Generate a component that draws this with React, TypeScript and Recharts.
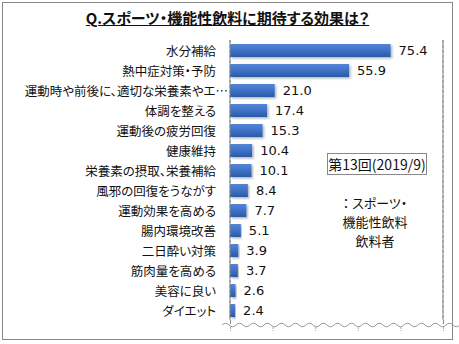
import React from "react";
import { BarChart, Bar, XAxis, YAxis, CartesianGrid, LabelList, ReferenceLine } from "recharts";

const categories = [
  "水分補給",
  "熱中症対策・予防",
  "運動時や前後に、適切な栄養素やエ…",
  "体調を整える",
  "運動後の疲労回復",
  "健康維持",
  "栄養素の摂取、栄養補給",
  "風邪の回復をうながす",
  "運動効果を高める",
  "腸内環境改善",
  "二日酔い対策",
  "筋肉量を高める",
  "美容に良い",
  "ダイエット",
];
const values = [75.4, 55.9, 21.0, 17.4, 15.3, 10.4, 10.1, 8.4, 7.7, 5.1, 3.9, 3.7, 2.6, 2.4];
const xTicks = [0, 20, 40, 60, 80, 100];
const title = "Q.スポーツ・機能性飲料に期待する効果は？";
const legendLabel = "第13回(2019/9)";
const noteLines = ["： スポーツ・", "機能性飲料", "飲料者"];

const data = categories.map((name, i) => ({ name, value: values[i] }));

const JP = '"Noto Sans CJK JP", "Noto Sans", sans-serif';

const CatTick = (props: any) => {
  const { x, y, payload } = props;
  const truncated = String(payload.value).endsWith("…");
  return (
    <text
      x={truncated ? x + 12 : x}
      y={y}
      textAnchor="end"
      dominantBaseline="central"
      fontSize={12.5}
      fontFamily={JP}
      fill="#111"
      style={{ fontFeatureSettings: '"palt"' }}
    >
      {payload.value}
    </text>
  );
};

const W = 459;
const H = 344;
const M = { top: 40, right: 16, bottom: 24, left: 0 };

function wavePath(x0: number, x1: number, y: number, amp: number, period: number) {
  let d = `M ${x0} ${y}`;
  for (let x = x0; x < x1; x += period) {
    const half = period / 2;
    d += ` q ${half / 2} ${-amp} ${half} 0 q ${half / 2} ${amp} ${half} 0`;
  }
  return d;
}

export default function App() {
  const plotLeft = 230;
  const plotRight = W - M.right;
  const plotBottom = H - M.bottom;
  return (
    <div style={{ position: "absolute", left: 0, top: 0, width: W, height: H, background: "#fff" }}>
      <BarChart width={W} height={H} data={data} layout="vertical" margin={M} barSize={13}>
        <defs>
          <linearGradient id="barGrad" x1="0" y1="0" x2="0" y2="1">
            <stop offset="0%" stopColor="#5485d6" />
            <stop offset="45%" stopColor="#3f74c8" />
            <stop offset="100%" stopColor="#2a5aa6" />
          </linearGradient>
          <filter id="shadow" x="-5%" y="-20%" width="115%" height="160%">
            <feDropShadow dx="1.5" dy="1.5" stdDeviation="1" floodColor="#000" floodOpacity="0.3" />
          </filter>
        </defs>
        <CartesianGrid horizontal={false} vertical={true} stroke="#8a8a8a" strokeDasharray="3 2" />
        <XAxis
          type="number"
          orientation="top"
          domain={[0, 100]}
          ticks={xTicks}
          height={0}
          tick={false}
          tickLine={false}
          axisLine={{ stroke: "#888" }}
        />
        <YAxis
          type="category"
          dataKey="name"
          width={230}
          tickLine={false}
          tickSize={0}
          tickMargin={14}
          axisLine={{ stroke: "#888" }}
          tick={<CatTick />}
          interval={0}
        />
        <ReferenceLine x={100} stroke="#888" strokeDasharray="0" ifOverflow="extendDomain" />
        <Bar dataKey="value" fill="url(#barGrad)" filter="url(#shadow)" isAnimationActive={false}>
          <LabelList
            dataKey="value"
            position="right"
            offset={8}
            fontSize={13}
            fontFamily='"DejaVu Sans", sans-serif'
            fill="#111"
            formatter={(v: any) => Number(v).toFixed(1)}
          />
        </Bar>
      </BarChart>

      <svg width={W} height={H} style={{ position: "absolute", left: 0, top: 0, pointerEvents: "none" }}>
        <rect x={2.5} y={2.5} width={450} height={337} fill="none" stroke="#888" strokeWidth={1} />
        <line x1={plotLeft + 0.5} y1={plotBottom} x2={plotLeft + 0.5} y2={plotBottom + 4} stroke="#888" />
        <line x1={plotRight + 0.5} y1={plotBottom} x2={plotRight + 0.5} y2={plotBottom + 4} stroke="#888" />
        <path d={wavePath(222, 447, plotBottom + 5, 3.5, 14)} fill="none" stroke="#999" strokeWidth={1} />
        {xTicks.map((t) => {
          const x = plotLeft + ((plotRight - plotLeft) * t) / 100 + 0.5;
          return <line key={t} x1={x} y1={plotBottom + 7} x2={x} y2={plotBottom + 11} stroke="#aaa" strokeDasharray="2 1" />;
        })}
      </svg>

      <div
        style={{
          position: "absolute",
          left: 0,
          top: 8,
          width: W - 4,
          textAlign: "center",
          fontFamily: JP,
          fontWeight: 700,
          fontSize: 15,
          textDecoration: "underline",
          color: "#111",
          lineHeight: "20px",
          fontFeatureSettings: '"palt"',
        }}
      >
        {title}
      </div>

      <div
        style={{
          position: "absolute",
          left: 327,
          top: 153,
          width: 98,
          height: 20,
          border: "1px solid #888",
          background: "#fff",
          fontFamily: JP,
          fontSize: 14,
          lineHeight: "20px",
          textAlign: "center",
          color: "#111",
          whiteSpace: "nowrap",
        }}
      >
        {legendLabel}
      </div>

      <div
        style={{
          position: "absolute",
          left: 330,
          top: 193,
          width: 90,
          fontFamily: JP,
          fontSize: 13,
          lineHeight: "19px",
          textAlign: "center",
          color: "#111",
          fontFeatureSettings: '"palt"',
        }}
      >
        {noteLines.map((l, i) => (
          <div key={i}>{l}</div>
        ))}
      </div>
    </div>
  );
}
